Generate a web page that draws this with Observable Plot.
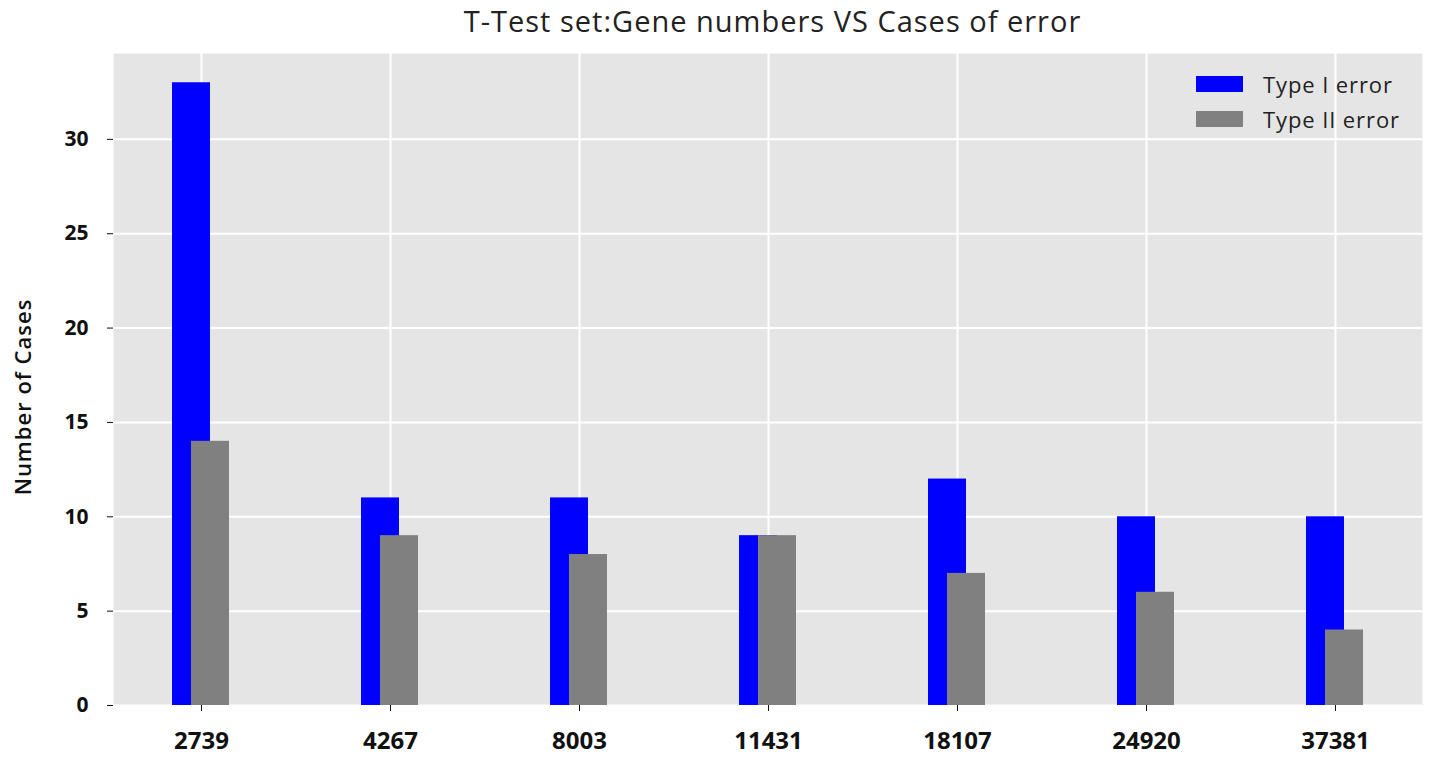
<!DOCTYPE html>
<html><head><meta charset="utf-8">
<script src="https://cdn.jsdelivr.net/npm/d3@7"></script>
<script src="https://cdn.jsdelivr.net/npm/@observablehq/plot@0.6"></script>
<style>
body{margin:0;background:#fff;font-family:"Open Sans",sans-serif;}
#wrap{position:relative;width:1430px;height:759px;overflow:hidden;}
#title{position:absolute;left:118px;width:1309px;top:0px;text-align:center;font-size:29px;letter-spacing:1px;color:#222;line-height:42px;white-space:nowrap;}
#chart{position:absolute;left:0;top:45px;}
#ylabel{position:absolute;left:22px;top:397px;transform:translate(-50%,-50%) rotate(-90deg);font-size:22px;letter-spacing:1px;font-weight:600;color:#111;white-space:nowrap;}
#legend{position:absolute;left:1196px;top:66px;font-size:22px;letter-spacing:0.9px;color:#222;}
.item{display:flex;align-items:center;height:35px;}
.sw{width:47px;height:16px;margin-right:20px;}
</style>
</head><body>
<div id="wrap">
  <div id="title"></div>
  <div id="chart"></div>
  <div id="ylabel"></div>
  <div id="legend"></div>
</div>
<script>
const titleText = "T-Test set:Gene numbers VS Cases of error";
const yLabel = "Number of Cases";
const genes = ["2739","4267","8003","11431","18107","24920","37381"];
const typeI = [33,11,11,9,12,10,10];
const typeII = [14,9,8,9,7,6,4];
const seriesNames = ["Type I error","Type II error"];
const seriesColors = ["#0000FF","#808080"];
const yTicks = [0,5,10,15,20,25,30];

const data = genes.map((g,i)=>({gene:g, typeI:typeI[i], typeII:typeII[i]}));

document.getElementById("title").textContent = titleText;
document.getElementById("ylabel").textContent = yLabel;
const leg = document.getElementById("legend");
seriesNames.forEach((n,i)=>{
  const it = document.createElement("div"); it.className="item";
  const sw = document.createElement("div"); sw.className="sw"; sw.style.background=seriesColors[i];
  const tx = document.createElement("span"); tx.textContent=n;
  it.appendChild(sw); it.appendChild(tx); leg.appendChild(it);
});

const chart = Plot.plot({
  width:1430, height:714,
  marginTop:8, marginBottom:54, marginLeft:113, marginRight:8,
  style:{background:"transparent", fontFamily:"Open Sans, sans-serif", overflow:"visible"},
  x:{type:"band", domain:genes, paddingInner:0.8, paddingOuter:0.357, label:null},
  y:{domain:[0,34.55], label:null},
  marks:[
    Plot.frame({fill:"#E5E5E5", stroke:null}),
    Plot.gridX({stroke:"#fff", strokeOpacity:1, strokeWidth:2}),
    Plot.gridY(yTicks, {stroke:"#fff", strokeOpacity:1, strokeWidth:2}),
    Plot.barY(data, {x:"gene", y:"typeI", fill:seriesColors[0], dx:-10}),
    Plot.barY(data, {x:"gene", y:"typeII", fill:seriesColors[1], dx:9}),
    Plot.axisX({tickSize:6, tickPadding:20, fontSize:24, fontWeight:"bold", color:"#111", label:null}),
    Plot.axisY(yTicks, {tickSize:6, tickPadding:19, fontSize:21, fontWeight:"bold", color:"#111", label:null})
  ]
});
document.getElementById("chart").appendChild(chart);
</script>
</body></html>
